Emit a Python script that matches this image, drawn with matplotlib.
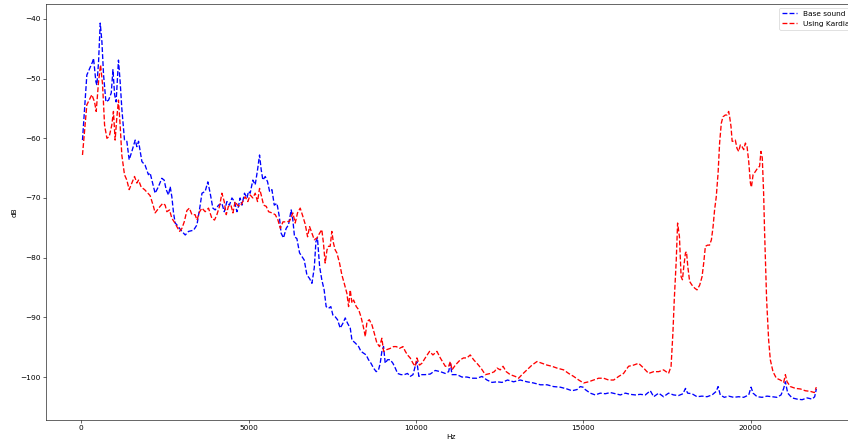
import matplotlib
matplotlib.use("Agg")
import matplotlib.pyplot as plt

base_hz = [40, 170, 240, 340, 370, 440, 470, 520, 570, 620, 670, 740, 820, 900, 950, 1000, 1045, 1115, 1165, 1215,
           1295, 1365, 1435, 1515, 1615, 1665, 1715, 1815, 1910, 2010, 2060, 2160, 2210, 2310, 2410, 2480, 2540, 2610,
           2660, 2710, 2760, 2810, 2860, 2940, 3010, 3110, 3210, 3360, 3460, 3540, 3610, 3705, 3785, 3855, 3935, 4005,
           4105, 4205, 4275, 4355, 4430, 4505, 4580, 4655, 4700, 4750, 4805, 4880, 4955, 5000, 5050, 5130, 5200, 5270,
           5330, 5380, 5430, 5500, 5570, 5630, 5700, 5770, 5850, 5920, 5975, 6045, 6125, 6195, 6275, 6325, 6375, 6445,
           6525, 6595, 6665, 6745, 6825, 6895, 6965, 7015, 7060, 7125, 7190, 7260, 7320, 7390, 7460, 7520, 7590, 7660,
           7740, 7820, 7890, 7960, 8040, 8090, 8190, 8290, 8360, 8435, 8515, 8585, 8660, 8735, 8815, 8885, 8935, 8985,
           9035, 9085, 9155, 9235, 9315, 9385, 9455, 9555, 9655, 9750, 9830, 9915, 9980, 10030, 10090, 10180, 10280,
           10430, 10580, 10730, 10880, 10980, 11030, 11080, 11230, 11375, 11525, 11675, 11825, 11975, 12125, 12275,
           12425, 12575, 12740, 12920, 13120, 13320, 13520, 13720, 13920, 14115, 14315, 14515, 14665, 14815, 14910,
           14995, 15060, 15210, 15360, 15510, 15660, 15810, 15960, 16110, 16260, 16405, 16555, 16705, 16855, 17005,
           17105, 17255, 17400, 17550, 17700, 17850, 17980, 18055, 18120, 18250, 18400, 18550, 18700, 18850, 18975,
           19030, 19095, 19215, 19345, 19495, 19645, 19795, 19945, 20015, 20075, 20195, 20345, 20490, 20640, 20790,
           20910, 20990, 21040, 21110, 21240, 21390, 21540, 21690, 21840, 21915, 21965]
base_db = [-60.3, -49.4, -48.5, -47.2, -46.6, -50.5, -51.1, -47.2, -40.7, -43.8, -49.4, -53.9, -53.6, -52.4, -48.5,
           -52.7, -53.9, -46.9, -50.5, -55.0, -60.3, -60.5, -63.6, -62.2, -60.3, -61.4, -60.5, -63.9, -64.5, -66.1,
           -65.8, -68.1, -69.2, -68.1, -66.7, -67.0, -68.6, -69.5, -68.1, -69.8, -72.5, -74.2, -74.5, -75.1, -75.6,
           -76.2, -75.6, -75.4, -74.5, -71.8, -69.2, -68.9, -67.3, -69.2, -71.7, -72.0, -71.2, -70.9, -72.3, -70.6,
           -71.2, -70.0, -70.6, -72.3, -71.4, -70.0, -71.2, -69.2, -70.0, -68.9, -69.2, -67.0, -67.8, -65.3, -62.8,
           -65.3, -67.0, -66.4, -67.3, -68.9, -68.6, -71.2, -70.9, -73.1, -75.9, -76.7, -75.1, -74.5, -72.0, -73.7,
           -76.5, -76.8, -79.2, -79.8, -80.4, -82.9, -83.5, -84.3, -81.7, -77.3, -76.7, -81.5, -83.7, -85.4, -88.2,
           -88.5, -88.2, -89.6, -89.9, -90.4, -91.8, -91.0, -90.1, -91.0, -91.8, -93.8, -94.3, -94.9, -95.7, -96.0,
           -96.3, -97.1, -97.7, -98.5, -99.1, -98.8, -97.7, -95.7, -94.9, -97.7, -97.1, -97.1, -97.7, -98.5, -99.4,
           -99.6, -99.6, -99.4, -99.9, -99.6, -98.2, -97.4, -99.9, -99.6, -99.6, -99.5, -98.9, -99.1, -99.4, -99.1,
           -97.7, -99.6, -99.6, -100.0, -100.0, -100.2, -100.2, -99.9, -100.5, -100.9, -100.8, -100.9, -100.5,
           -100.8, -100.5, -100.8, -101.0, -101.3, -101.3, -101.6, -101.7, -102.0, -102.3, -102.1, -101.6, -101.7,
           -102.1, -102.7, -103.0, -102.7, -102.8, -102.6, -102.8, -103.0, -102.7, -102.9, -103.0, -102.9, -103.0,
           -102.3, -103.3, -102.7, -103.3, -102.7, -103.0, -103.1, -102.8, -101.9, -102.7, -102.8, -103.3, -103.2,
           -103.3, -103.0, -102.4, -101.6, -103.0, -103.4, -103.2, -103.4, -103.3, -103.4, -103.0, -101.7, -102.7,
           -103.3, -103.4, -103.2, -103.3, -103.4, -103.0, -101.9, -100.8, -102.7, -103.5, -103.7, -103.8, -103.5,
           -103.7, -103.3, -102.0]

kardia_hz = [40, 170, 320, 400, 450, 520, 580, 640, 700, 770, 840, 915, 965, 1015, 1065, 1115, 1165, 1215, 1295,
             1365, 1435, 1515, 1595, 1665, 1715, 1795, 1895, 1995, 2060, 2160, 2210, 2280, 2360, 2440, 2510, 2560,
             2640, 2710, 2780, 2860, 2940, 3010, 3080, 3160, 3235, 3310, 3405, 3460, 3540, 3610, 3705, 3805, 3905,
             3985, 4055, 4135, 4205, 4275, 4335, 4400, 4475, 4535, 4600, 4670, 4750, 4830, 4900, 4980, 5050, 5130,
             5200, 5270, 5330, 5380, 5450, 5530, 5600, 5700, 5800, 5880, 5950, 6030, 6125, 6225, 6325, 6395, 6465,
             6545, 6625, 6695, 6765, 6825, 6895, 6965, 7045, 7125, 7190, 7240, 7290, 7345, 7390, 7440, 7490, 7540,
             7590, 7640, 7720, 7790, 7860, 7940, 7990, 8040, 8090, 8140, 8220, 8290, 8360, 8420, 8490, 8540, 8610,
             8690, 8755, 8835, 8915, 8985, 9035, 9135, 9235, 9335, 9415, 9510, 9615, 9685, 9750, 9830, 9915, 9980,
             10030, 10110, 10180, 10280, 10410, 10510, 10630, 10730, 10880, 10980, 11030, 11080, 11180, 11330,
             11425, 11525, 11625, 11725, 11825, 11945, 12075, 12225, 12345, 12425, 12520, 12605, 12700, 12820,
             12970, 13070, 13170, 13320, 13470, 13620, 13770, 13920, 14065, 14215, 14415, 14565, 14715, 14865,
             15010, 15160, 15310, 15460, 15610, 15760, 15910, 16060, 16205, 16355, 16505, 16655, 16805, 16955,
             17105, 17255, 17400, 17550, 17625, 17680, 17720, 17780, 17820, 17875, 17925, 17965, 18005, 18055,
             18085, 18125, 18180, 18250, 18330, 18400, 18480, 18550, 18600, 18650, 18715, 18775, 18830, 18880,
             18925, 18975, 19030, 19075, 19125, 19175, 19245, 19295, 19345, 19375, 19415, 19450, 19495, 19545,
             19595, 19645, 19695, 19745, 19795, 19845, 19895, 19945, 19995, 20025, 20075, 20140, 20210, 20270,
             20310, 20350, 20390, 20420, 20450, 20480, 20540, 20590, 20670, 20770, 20890, 20990, 21040, 21090,
             21190, 21340, 21490, 21635, 21785, 21905, 21965]
kardia_db = [-62.8, -54.4, -52.7, -53.9, -55.5, -50.5, -47.7, -51.0, -57.8, -60.0, -59.7, -57.8, -55.5, -60.3,
             -56.6, -53.6, -57.8, -62.8, -66.1, -67.0, -68.6, -67.5, -66.4, -67.5, -67.0, -68.2, -68.6, -69.2,
             -69.6, -71.4, -72.5, -72.0, -71.4, -70.9, -71.2, -72.3, -72.0, -73.4, -74.0, -74.8, -75.6, -75.1,
             -74.0, -72.1, -71.7, -72.8, -72.8, -73.7, -72.3, -71.7, -72.3, -71.7, -73.4, -73.7, -72.8, -71.4,
             -69.2, -70.6, -72.8, -71.4, -71.2, -72.5, -70.6, -71.2, -71.4, -70.6, -69.8, -70.6, -69.5, -70.0,
             -69.2, -70.6, -68.4, -69.5, -71.2, -71.4, -72.3, -72.5, -72.8, -73.7, -75.1, -74.0, -74.0, -73.9,
             -72.5, -74.2, -72.5, -71.7, -73.1, -74.4, -76.5, -74.8, -75.9, -77.0, -76.7, -75.9, -75.3, -77.6,
             -80.9, -78.7, -78.1, -78.1, -75.6, -77.6, -78.7, -79.2, -80.9, -82.9, -84.3, -86.0, -88.2, -85.4,
             -87.6, -87.1, -88.2, -88.7, -89.9, -91.3, -93.2, -90.7, -90.4, -91.3, -92.6, -94.3, -94.9, -93.5,
             -95.7, -95.4, -95.2, -94.9, -94.9, -95.2, -94.9, -95.7, -96.3, -96.8, -97.7, -98.2, -96.8, -98.0,
             -97.7, -96.8, -95.7, -96.3, -95.7, -96.8, -98.2, -98.2, -97.4, -98.8, -98.0, -97.1, -96.8, -96.8,
             -96.3, -97.1, -97.7, -98.5, -99.6, -99.4, -99.1, -98.5, -98.8, -98.2, -99.1, -99.6, -99.9, -100.2,
             -99.6, -98.8, -98.0, -97.4, -97.7, -98.0, -98.2, -98.5, -98.8, -99.4, -99.9, -100.5, -101.0, -100.8,
             -100.5, -100.2, -100.2, -100.5, -100.5, -99.9, -99.4, -98.2, -98.0, -97.7, -98.5, -99.4, -99.1,
             -99.1, -98.8, -99.4, -98.2, -92.6, -87.1, -80.4, -74.2, -76.5, -83.2, -83.7, -81.5, -79.2, -79.0,
             -81.5, -84.0, -84.6, -85.1, -85.4, -84.6, -83.2, -80.9, -78.1, -77.9, -77.9, -77.0, -74.8, -72.0,
             -69.8, -65.8, -60.8, -57.5, -56.4, -56.1, -56.1, -55.5, -56.4, -58.0, -60.5, -60.5, -60.3, -61.7,
             -62.2, -61.1, -61.4, -61.9, -60.8, -61.4, -63.9, -67.5, -68.2, -66.1, -65.6, -65.0, -64.7, -62.2,
             -63.3, -69.2, -75.9, -81.5, -87.1, -93.8, -97.1, -99.1, -100.2, -100.5, -100.9, -99.6, -100.8,
             -101.6, -101.9, -102.0, -102.3, -102.4, -102.6, -101.7]

labels = ["Base sound", "Using Kardia"]

DPI = 53
fig = plt.figure(figsize=(848 / DPI, 444 / DPI), dpi=DPI)
ax = fig.add_axes([46 / 848, 24 / 444, 810 / 848, 416 / 444])
ax.plot(base_hz, base_db, "b--", lw=1.8, label=labels[0])
ax.plot(kardia_hz, kardia_db, "r--", lw=1.8, label=labels[1])
ax.set_xlim(-1050, 23150)
ax.set_ylim(-107.2, -37.5)
ax.set_xlabel("Hz")
ax.set_ylabel("dB")
ax.legend(loc="upper right")
fig.savefig("out.png", dpi=DPI)
